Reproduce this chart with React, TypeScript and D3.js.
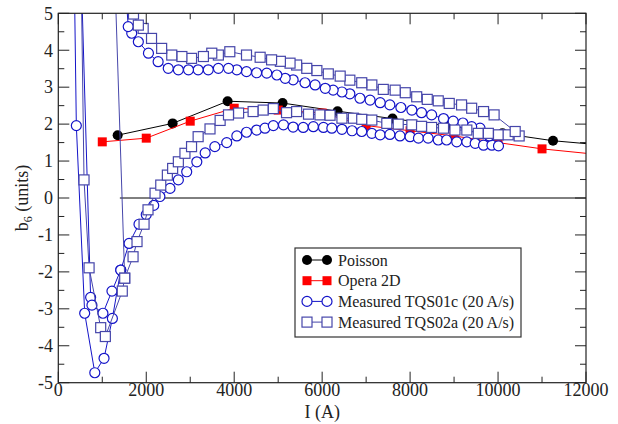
import React from "react";
import * as d3 from "d3";

// ---- data ----
const poissonI = [1350, 2600, 3850, 5100, 6350, 7600, 8850, 10100, 11250, 12500];
const poissonB6 = [1.7, 2.02, 2.62, 2.57, 2.35, 2.15, 1.95, 1.75, 1.55, 1.42];

const operaI = [1000, 2000, 3000, 4000, 5000, 6000, 7000, 8000, 9000, 10000, 11000, 12500];
const operaB6 = [1.52, 1.62, 2.08, 2.43, 2.38, 2.3, 1.96, 1.82, 1.68, 1.5, 1.33, 1.15];

const tqs01cI = [
  330, 410, 600, 830, 1040, 1230, 1420, 1610, 1835, 2000, 2170, 2310, 2540, 2730, 2920, 3150, 3340,
  3560, 3830, 4060, 4280, 4510, 4700, 4890, 5120, 5340, 5570, 5800, 6030, 6220, 6450, 6680, 6900,
  7130, 7320, 7540, 7770, 8000, 8190, 8410, 8640, 8830, 9060, 9290, 9480, 9670, 9860, 10010,
  9800, 9590, 9400, 9200, 8980, 8760, 8490, 8260, 8040, 7790, 7540, 7320, 7090, 6860, 6630, 6450,
  6250, 6070, 5840, 5610, 5340, 5160, 4970, 4740, 4510, 4280, 4060, 3870, 3640, 3410, 3180, 2960,
  2730, 2500, 2270, 2050, 1820, 1670, 1590, 1500,
  450, 735, 765, 1015, 1220, 1420,
];
const tqs01cB6 = [
  9, 1.96, -3.12, -4.73, -4.34, -3.26, -1.95, -1.23, -0.71, -0.45, -0.2, 0.04, 0.26, 0.49, 0.71, 0.98, 1.22,
  1.39, 1.5, 1.68, 1.78, 1.84, 1.89, 1.96, 1.98, 1.92, 1.91, 1.93, 1.91, 1.89, 1.86, 1.82, 1.8,
  1.75, 1.71, 1.72, 1.68, 1.66, 1.62, 1.62, 1.57, 1.57, 1.52, 1.52, 1.48, 1.43, 1.43, 1.41,
  1.68, 1.89, 1.93, 2.03, 2.08, 2.15, 2.25, 2.31, 2.38, 2.45, 2.52, 2.58, 2.65, 2.7, 2.82, 2.87,
  2.92, 2.97, 3.06, 3.12, 3.2, 3.24, 3.33, 3.38, 3.39, 3.42, 3.47, 3.51, 3.51, 3.47, 3.47, 3.47,
  3.47, 3.51, 3.69, 3.92, 4.23, 4.46, 4.64, 6.2,
  9, -2.69, -2.9, -3.12, -2.52, -1.95,
];

const tqs02aI = [
  450, 585, 700, 964, 1070, 1455, 1510, 1700, 1790, 1950, 2040, 2200, 2330, 2480, 2600, 2730, 2880,
  3030, 3180, 3450, 3680, 3870, 4100, 4430, 4660, 4890, 5190, 5420, 5690, 5950, 6180, 6450, 6710,
  6900, 7130, 7470, 7730, 8040, 8260, 8490, 8760, 9020, 9290, 9550, 9780, 10010, 10230, 10480,
  10390, 9910, 9670, 9400, 9170, 8890, 8640, 8390, 8150, 7890, 7660, 7390, 7130, 6900, 6630, 6410,
  6140, 5880, 5650, 5420, 5270, 5050, 4850, 4590, 4280, 3900, 3640, 3490, 3300, 3030, 2810, 2580,
  2350, 2120, 1930, 1820, 1710, 1620, 1230, 1510,
];
const tqs02aB6 = [
  12, 0.49, -1.89, -3.51, -3.75, -2.52, -2.17, -1.59, -1.18, -0.71, -0.32, 0.13, 0.35, 0.62, 0.8, 0.98, 1.21,
  1.39, 1.66, 1.87, 2.1, 2.25, 2.3, 2.34, 2.38, 2.42, 2.31, 2.34, 2.27, 2.25, 2.24, 2.16, 2.16,
  2.13, 2.11, 2.02, 2.0, 1.98, 1.94, 1.91, 1.89, 1.84, 1.84, 1.75, 1.75, 1.71, 1.71, 1.68,
  1.8, 2.25, 2.34, 2.43, 2.52, 2.56, 2.63, 2.67, 2.74, 2.85, 2.92, 2.94, 3.06, 3.12, 3.19, 3.3,
  3.36, 3.45, 3.51, 3.6, 3.65, 3.7, 3.74, 3.81, 3.87, 3.96, 3.87, 3.92, 3.83, 3.78, 3.83, 3.87,
  4.05, 4.32, 4.59, 4.68, 4.98, 5.6, 8, -2.17,
];

const zeroLineI = [1400, 12000];
const zeroLineB6 = [0, 0];

const xTicks = [0, 2000, 4000, 6000, 8000, 10000, 12000];
const xMinor = [1000, 3000, 5000, 7000, 9000, 11000];
const yTicks = [-5, -4, -3, -2, -1, 0, 1, 2, 3, 4, 5];
const yMinor = [-4.5, -3.5, -2.5, -1.5, -0.5, 0.5, 1.5, 2.5, 3.5, 4.5];

const legendLabels = ["Poisson", "Opera 2D", "Measured TQS01c (20 A/s)", "Measured TQS02a (20 A/s)"];

const BLUE1 = "#1414c8";
const BLUE2 = "#4646aa";
const FONT = "'Liberation Serif', 'DejaVu Serif', 'Times New Roman', Times, serif";

export default function App() {
  const W = 618, H = 424;
  const L = 58.3, R = 586, T = 13.3, B = 382.7;
  const x = d3.scaleLinear().domain([0, 12000]).range([L, R]);
  const y = d3.scaleLinear().domain([-5, 5]).range([B, T]);
  const ts = { fontFamily: FONT };

  const pts = (xs: number[], ys: number[]) => xs.map((v, i) => [v, ys[i]] as [number, number]);
  const line = d3.line<[number, number]>().x((d) => x(d[0])).y((d) => y(d[1]));

  const poisson = pts(poissonI, poissonB6);
  const opera = pts(operaI, operaB6);
  const c01 = pts(tqs01cI, tqs01cB6);
  const s02 = pts(tqs02aI, tqs02aB6);
  const zero = pts(zeroLineI, zeroLineB6);

  const MAJ = 11, MIN = 6;
  const legX = 295, legY = 248, legW = 226, legH = 89;
  const rowY = (i: number) => legY + 12 + i * 20.7;

  return (
    <svg width={W} height={H} style={{ position: "absolute", left: 0, top: 0, background: "#fff", fontFamily: FONT }}>
      <defs>
        <clipPath id="plot">
          <rect x={L} y={T} width={R - L} height={B - T} />
        </clipPath>
      </defs>
      <rect x={0} y={0} width={W} height={H} fill="#fff" />
      <g clipPath="url(#plot)">
        <path d={line(zero) || ""} fill="none" stroke="#000" strokeWidth={1} />
        <path d={line(poisson) || ""} fill="none" stroke="#000" strokeWidth={1} />
        {poisson.map((d, i) => (
          <circle key={"p" + i} cx={x(d[0])} cy={y(d[1])} r={5} fill="#000" />
        ))}
        <path d={line(opera) || ""} fill="none" stroke="#ff0000" strokeWidth={1} />
        {opera.map((d, i) => (
          <rect key={"o" + i} x={x(d[0]) - 4.5} y={y(d[1]) - 4.5} width={9} height={9} fill="#ff0000" />
        ))}
        <path d={line(c01) || ""} fill="none" stroke={BLUE1} strokeWidth={1} />
        {c01.map((d, i) => (
          <circle key={"c" + i} cx={x(d[0])} cy={y(d[1])} r={5} fill="#fff" stroke={BLUE1} strokeWidth={1.2} />
        ))}
        <path d={line(s02) || ""} fill="none" stroke={BLUE2} strokeWidth={1} />
        {s02.map((d, i) => (
          <rect key={"s" + i} x={x(d[0]) - 5} y={y(d[1]) - 5} width={10} height={10} fill="#fff" stroke={BLUE2} strokeWidth={1.2} />
        ))}
      </g>

      {/* frame */}
      <rect x={L} y={T} width={R - L} height={B - T} fill="none" stroke="#222" strokeWidth={1.2} />

      {/* x ticks */}
      {xTicks.map((t) => (
        <g key={"xt" + t}>
          <line x1={x(t)} x2={x(t)} y1={B} y2={B - MAJ} stroke="#222" />
          <line x1={x(t)} x2={x(t)} y1={T} y2={T + MAJ} stroke="#222" />
          <text x={x(t)} y={396} textAnchor="middle" fontSize={18} fill="#222" style={ts}>{t}</text>
        </g>
      ))}
      {xMinor.map((t) => (
        <g key={"xm" + t}>
          <line x1={x(t)} x2={x(t)} y1={B} y2={B - MIN} stroke="#222" />
          <line x1={x(t)} x2={x(t)} y1={T} y2={T + MIN} stroke="#222" />
        </g>
      ))}
      {/* y ticks */}
      {yTicks.map((t) => (
        <g key={"yt" + t}>
          <line x1={L} x2={L + MAJ} y1={y(t)} y2={y(t)} stroke="#222" />
          <line x1={R} x2={R - MAJ} y1={y(t)} y2={y(t)} stroke="#222" />
          <text x={53} y={y(t)} dy="0.35em" textAnchor="end" fontSize={18} fill="#222" style={ts}>{t}</text>
        </g>
      ))}
      {yMinor.map((t) => (
        <g key={"ym" + t}>
          <line x1={L} x2={L + MIN} y1={y(t)} y2={y(t)} stroke="#222" />
          <line x1={R} x2={R - MIN} y1={y(t)} y2={y(t)} stroke="#222" />
        </g>
      ))}

      {/* axis titles */}
      <text x={(L + R) / 2} y={418} textAnchor="middle" fontSize={18} fill="#222" style={ts}>I (A)</text>
      <text transform={`translate(28, ${(T + B) / 2}) rotate(-90)`} textAnchor="middle" fontSize={18} fill="#222" style={ts}>
        b<tspan dy={4} fontSize={12}>6</tspan><tspan dy={-4}> (units)</tspan>
      </text>

      {/* legend */}
      <rect x={legX} y={legY} width={legW} height={legH} fill="#fff" stroke="#333" strokeWidth={1.2} />
      {legendLabels.map((lab, i) => {
        const ry = rowY(i);
        const x1 = 307, x2 = 327;
        const col = i === 0 ? "#000" : i === 1 ? "#ff0000" : i === 2 ? BLUE1 : BLUE2;
        return (
          <g key={"lg" + i}>
            <line x1={x1} x2={x2} y1={ry} y2={ry} stroke={col} strokeWidth={1} />
            {[x1, x2].map((mx) =>
              i === 0 ? (
                <circle key={mx} cx={mx} cy={ry} r={5} fill="#000" />
              ) : i === 1 ? (
                <rect key={mx} x={mx - 4.5} y={ry - 4.5} width={9} height={9} fill="#ff0000" />
              ) : i === 2 ? (
                <circle key={mx} cx={mx} cy={ry} r={5} fill="#fff" stroke={BLUE1} strokeWidth={1.2} />
              ) : (
                <rect key={mx} x={mx - 5} y={ry - 5} width={10} height={10} fill="#fff" stroke={BLUE2} strokeWidth={1.2} />
              )
            )}
            <text x={338} y={ry} dy="0.35em" fontSize={16} fill="#222" style={ts}>{lab}</text>
          </g>
        );
      })}
    </svg>
  );
}
